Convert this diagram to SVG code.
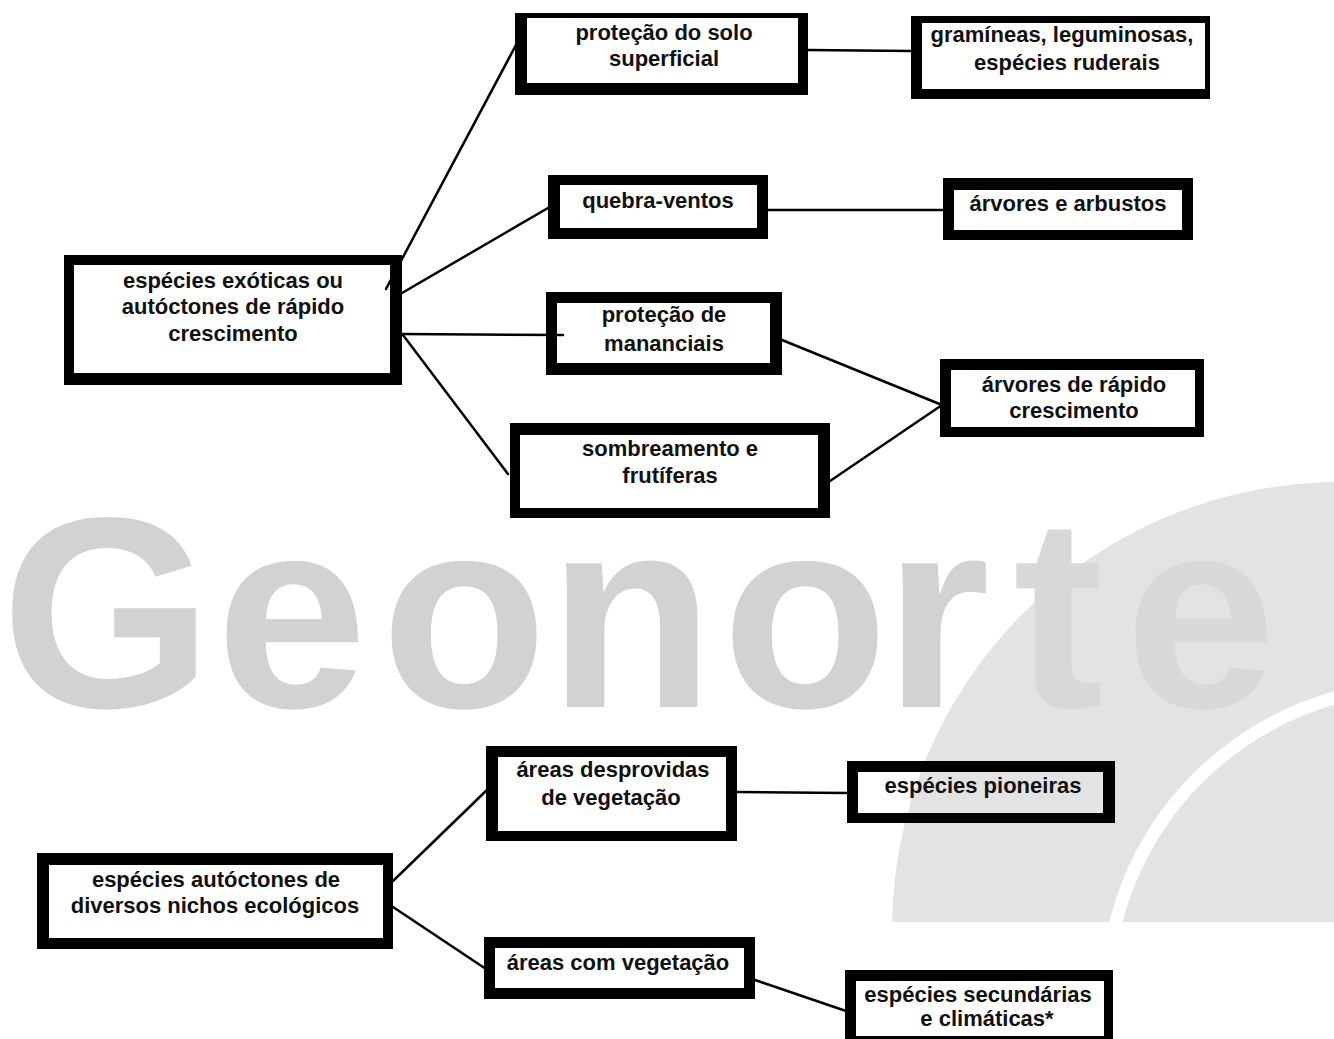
<svg xmlns="http://www.w3.org/2000/svg" width="1334" height="1039" viewBox="0 0 1334 1039">
<style>
.frame{fill:#000;fill-rule:evenodd}
.lbl{font-family:"Liberation Sans",Arial,sans-serif;font-weight:bold;font-size:22px;fill:#111;text-anchor:middle}
.con{stroke:#000;stroke-width:2.5;fill:none;stroke-linecap:round}
.wm{font-family:"Liberation Sans",Arial,sans-serif;font-weight:bold;font-size:272px;fill:#d2d2d2}
</style>
<defs>
<clipPath id="wmclip"><rect x="0" y="440" width="1334" height="482"/></clipPath>
</defs>
<rect x="0" y="0" width="1334" height="1039" fill="#fff"/>
<g id="watermark" clip-path="url(#wmclip)">
<circle cx="1340" cy="930" r="448" fill="#e3e3e3"/>
<text class="wm" x="1 216 381 548 722 884 1013 1125" y="707">Geonor<tspan fill="#d8d8d8">te</tspan></text>
<circle cx="1420" cy="1000" r="314" fill="none" stroke="#fff" stroke-width="13"/>
</g>
<g id="connectors">
<line class="con" x1="386" y1="289" x2="516" y2="45"/>
<line class="con" x1="402" y1="293" x2="548" y2="208"/>
<line class="con" x1="402" y1="334" x2="563" y2="335"/>
<line class="con" x1="403" y1="335" x2="508" y2="474"/>
<line class="con" x1="808" y1="50" x2="911" y2="51"/>
<line class="con" x1="768" y1="210" x2="943" y2="210"/>
<line class="con" x1="782" y1="340" x2="942" y2="405"/>
<line class="con" x1="830" y1="481" x2="942" y2="405"/>
<line class="con" x1="393" y1="881" x2="488" y2="789"/>
<line class="con" x1="393" y1="907" x2="486" y2="969"/>
<line class="con" x1="737" y1="792" x2="847" y2="793"/>
<line class="con" x1="755" y1="980" x2="846" y2="1011"/>
</g>
<g id="n-exoticas">
<path class="frame" d="M64 255H402V385H64Z M74 265V373H390V265Z"/>
<text class="lbl" x="233" y="288">espécies exóticas ou</text>
<text class="lbl" x="233" y="314">autóctones de rápido</text>
<text class="lbl" x="233" y="341">crescimento</text>
</g>
<g id="n-protecao-solo">
<path class="frame" d="M515 13H808V95H515Z M527 18V83H798V18Z"/>
<text class="lbl" x="664" y="40">proteção do solo</text>
<text class="lbl" x="664" y="66">superficial</text>
</g>
<g id="n-gramineas">
<path class="frame" d="M911 16H1210V99H911Z M922 23V89H1205V23Z"/>
<text class="lbl" x="1062" y="42">gramíneas, leguminosas,</text>
<text class="lbl" x="1067" y="70">espécies ruderais</text>
</g>
<g id="n-quebra-ventos">
<path class="frame" d="M548 175H768V239H548Z M560 185V228H757V185Z"/>
<text class="lbl" x="658" y="208">quebra-ventos</text>
</g>
<g id="n-arvores-arbustos">
<path class="frame" d="M943 178H1193V240H943Z M954 190V230H1182V190Z"/>
<text class="lbl" x="1068" y="211">árvores e arbustos</text>
</g>
<g id="n-mananciais">
<path class="frame" d="M546 292H782V375H546Z M557 303V363H770V303Z"/>
<text class="lbl" x="664" y="322">proteção de</text>
<text class="lbl" x="664" y="351">mananciais</text>
</g>
<g id="n-sombreamento">
<path class="frame" d="M510 423H830V518H510Z M520 435V508H818V435Z"/>
<text class="lbl" x="670" y="456">sombreamento e</text>
<text class="lbl" x="670" y="483">frutíferas</text>
</g>
<g id="n-arvores-rapido">
<path class="frame" d="M940 359H1204V437H940Z M951 370V427H1195V370Z"/>
<text class="lbl" x="1074" y="392">árvores de rápido</text>
<text class="lbl" x="1074" y="418">crescimento</text>
</g>
<g id="n-autoctones">
<path class="frame" d="M37 853H393V949H37Z M49 865V938H383V865Z"/>
<text class="lbl" x="216" y="887">espécies autóctones de</text>
<text class="lbl" x="215" y="913">diversos nichos ecológicos</text>
</g>
<g id="n-desprovidas">
<path class="frame" d="M486 746H737V841H486Z M498 757V831H726V757Z"/>
<text class="lbl" x="613" y="777">áreas desprovidas</text>
<text class="lbl" x="611" y="805">de vegetação</text>
</g>
<g id="n-com-vegetacao">
<path class="frame" d="M484 937H755V999H484Z M495 948V988H744V948Z"/>
<text class="lbl" x="618" y="970">áreas com vegetação</text>
</g>
<g id="n-pioneiras">
<path class="frame" d="M847 761H1115V823H847Z M858 772V813H1103V772Z"/>
<text class="lbl" x="983" y="793">espécies pioneiras</text>
</g>
<g id="n-secundarias">
<path class="frame" d="M845 970H1113V1050H845Z M856 981V1036H1104V981Z"/>
<text class="lbl" x="978" y="1002">espécies secundárias</text>
<text class="lbl" x="987" y="1026">e climáticas*</text>
</g>
</svg>
